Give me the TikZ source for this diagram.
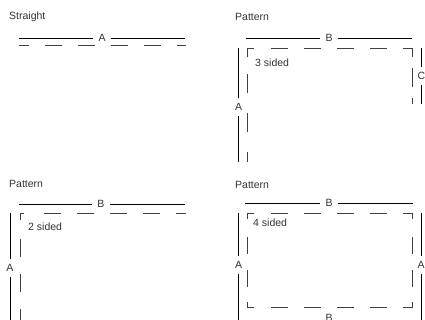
\documentclass[tikz,border=0pt]{standalone}
\usepackage{fontspec}
\setmainfont{Liberation Sans}
\begin{document}
\begin{tikzpicture}[x=1pt,y=-1pt,
  lbl/.style={text=black!80,font=\fontsize{10.5}{12}\selectfont,inner sep=0pt},
  title/.style={lbl,anchor=west},
  dim/.style={draw=black,line width=0.9pt},
  dsh/.style={draw=black!75,line width=0.9pt,dash pattern=on 17pt off 16pt},
  crn/.style={draw=black!75,line width=0.9pt}]
\useasboundingbox (0,0) rectangle (425,320);
% ---------- Straight ----------
\node[title] (t1) at (9,17) {Straight};
\node[lbl] (a1) at (102,38) {A};
\coordinate (s1l) at (19,38); \coordinate (s1r) at (185,38);
\draw[dim] (s1l) -- ([xshift=-5pt]a1.west |- s1l);
\draw[dim] ([xshift=5pt]a1.east |- s1r) -- (s1r);
\coordinate (d1l) at (19,45); \coordinate (d1r) at (186,45);
\draw[dsh,dash phase=7pt] (d1l) -- (d1r);
% ---------- 3 sided ----------
\node[title] (t2) at (235,17) {Pattern};
\node[lbl] (b2) at (329,38) {B};
\coordinate (b2l) at (246,38); \coordinate (b2r) at (412,38);
\draw[dim] (b2l) -- ([xshift=-5pt]b2.west |- b2l);
\draw[dim] ([xshift=5pt]b2.east |- b2r) -- (b2r);
\node[lbl] (a2) at (238.5,107) {A};
\coordinate (a2t) at (238.5,48); \coordinate (a2b) at (238.5,162);
\draw[dim] (a2t) -- ([yshift=5pt]a2.north -| a2t);
\draw[dim] ([yshift=-5pt]a2.south -| a2b) -- (a2b);
\node[lbl] (c2) at (421.5,76) {C};
\coordinate (c2t) at (421.5,48); \coordinate (c2b) at (421.5,104);
\draw[dim] (c2t) -- ([yshift=5pt]c2.north -| c2t);
\draw[dim] ([yshift=-5pt]c2.south -| c2b) -- (c2b);
\coordinate (p2a) at (247,162); \coordinate (p2b) at (247,48);
\coordinate (p2c) at (412,48); \coordinate (p2d) at (412,104);
\draw[crn] (247,57) -- (p2b) -- (254,48);
\draw[crn] (403,48) -- (p2c) -- (412,57);
\draw[dsh,dash pattern=on 19pt off 20pt,dash phase=22pt] (247,57) -- (p2a);
\draw[dsh,dash phase=17pt] (255,48) -- (403,48);
\draw[dsh,dash pattern=on 19pt off 11pt,dash phase=19pt] (412,57) -- (p2d);
\node[lbl,anchor=west] (n2) at (255,63) {3 sided};
% ---------- 2 sided ----------
\node[title] (t3) at (9,184) {Pattern};
\node[lbl] (b3) at (101,204) {B};
\coordinate (b3l) at (19,204); \coordinate (b3r) at (185,204);
\draw[dim] (b3l) -- ([xshift=-5pt]b3.west |- b3l);
\draw[dim] ([xshift=5pt]b3.east |- b3r) -- (b3r);
\node[lbl] (a3) at (10,268) {A};
\coordinate (a3t) at (10,213); \coordinate (a3b) at (10,320);
\draw[dim] (a3t) -- ([yshift=5pt]a3.north -| a3t);
\draw[dim] ([yshift=-5pt]a3.south -| a3b) -- (a3b);
\coordinate (p3a) at (20,320); \coordinate (p3b) at (20,213); \coordinate (p3c) at (186,213);
\draw[crn] (20,220) -- (p3b) -- (24,213);
\draw[dsh,dash pattern=on 18pt off 17pt,dash phase=18pt] (20,222) -- (p3a);
\draw[dsh,dash phase=17pt] (28,213) -- (p3c);
\node[lbl,anchor=west] (n3) at (28,227) {2 sided};
% ---------- 4 sided ----------
\node[title] (t4) at (235,185) {Pattern};
\node[lbl] (b4) at (329,203) {B};
\coordinate (b4l) at (245,203); \coordinate (b4r) at (413,203);
\draw[dim] (b4l) -- ([xshift=-5pt]b4.west |- b4l);
\draw[dim] ([xshift=5pt]b4.east |- b4r) -- (b4r);
\node[lbl] (a4) at (238.5,265) {A};
\coordinate (a4t) at (238.5,213); \coordinate (a4b) at (238.5,320);
\draw[dim] (a4t) -- ([yshift=5pt]a4.north -| a4t);
\draw[dim] ([yshift=-5pt]a4.south -| a4b) -- (a4b);
\node[lbl] (a5) at (421,265) {A};
\coordinate (a5t) at (421.5,213); \coordinate (a5b) at (421.5,320);
\draw[dim] (a5t) -- ([yshift=5pt]a5.north -| a5t);
\draw[dim] ([yshift=-5pt]a5.south -| a5b) -- (a5b);
\node[lbl,anchor=north] (b5) at (329,314) {B};
\coordinate (q1) at (247,213); \coordinate (q2) at (412,213);
\coordinate (q3) at (412,307); \coordinate (q4) at (247,307);
\draw[crn] (247,219) -- (q1) -- (254,213);
\draw[crn] (403,213) -- (q2) -- (412,219);
\draw[crn] (412,302) -- (q3) -- (403,307);
\draw[crn] (254,307) -- (q4) -- (247,302);
\draw[dsh,dash phase=17pt] (255,213) -- (403,213);
\draw[dsh,dash phase=17pt] (255,307) -- (403,307);
\draw[dsh,dash phase=17pt] (247,221) -- (247,302);
\draw[dsh,dash phase=17pt] (412,221) -- (412,302);
\node[lbl,anchor=west] (n4) at (253,223) {4 sided};
\end{tikzpicture}
\end{document}
